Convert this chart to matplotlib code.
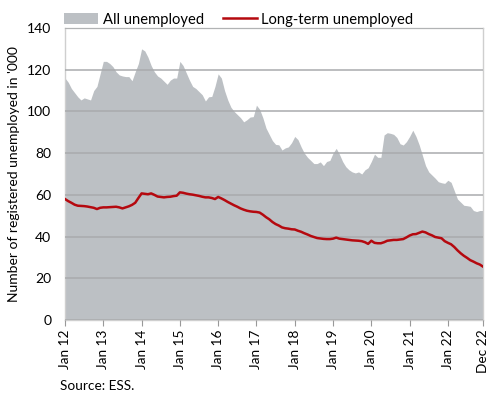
import numpy as np
import matplotlib
matplotlib.use('Agg')
import matplotlib.pyplot as plt

plt.rcParams['font.family'] = ['Lato', 'DejaVu Sans']

# monthly values, Jan 2012 - Dec 2022, thousands
all_unemployed = [
    116, 114, 111, 109, 107, 105.5, 106.5, 106, 105.5, 110, 112, 118,       # 2012
    124, 124, 123, 121.5, 119, 117.5, 117, 116.7, 116.7, 114.7, 119, 123,   # 2013
    130, 129, 126, 122, 119, 117, 116, 114.5, 113, 115, 116, 116,           # 2014
    124, 122, 118.5, 115, 112, 111, 109.5, 108, 105, 107, 107.2, 112,       # 2015
    118, 116, 110, 105.5, 102, 100, 98.5, 97, 95, 96, 97.3, 97.5,           # 2016
    103, 101, 97, 92, 89, 86, 84.2, 84, 81.5, 82.5, 83, 85,                 # 2017
    88, 86.5, 83, 80, 78, 76.5, 75, 75, 75.8, 74, 76, 76.5,                 # 2018
    80, 82.3, 79.5, 76, 73.5, 72, 71, 70.5, 71, 70, 72, 73,                 # 2019
    76, 79.5, 78, 78, 88.7, 89.8, 89.5, 89, 87.5, 84.5, 83.9, 85.5,         # 2020
    88, 91, 88, 84, 79, 74, 71, 69.5, 68, 66.3, 65.8, 65.5,                 # 2021
    67, 66, 62, 58, 56.5, 55, 54.8, 54.5, 52.5, 52, 52.5, 52.5,             # 2022
]
long_term = [
    58, 57, 56.2, 55.3, 54.8, 54.7, 54.6, 54.4, 54.1, 53.8, 53.2, 53.8,
    54, 54, 54.1, 54.2, 54.3, 54, 53.5, 54, 54.5, 55.2, 56.2, 58.5,
    60.7, 60.5, 60.3, 60.7, 60, 59.2, 59, 58.8, 59, 59.1, 59.4, 59.6,
    61.2, 61, 60.6, 60.3, 60.1, 59.8, 59.5, 59.1, 58.8, 58.8, 58.5, 58,
    59, 58.3, 57.5, 56.6, 55.8, 55, 54.3, 53.5, 52.9, 52.4, 52.1, 51.9,
    51.8, 51.5, 50.5, 49.3, 48.3, 47, 46, 45.3, 44.4, 44, 43.8, 43.5,
    43.4, 42.8, 42.3, 41.6, 41, 40.3, 39.8, 39.3, 39.1, 38.9, 38.8, 38.8,
    39, 39.5, 39, 38.8, 38.6, 38.4, 38.2, 38.1, 38, 37.8, 37.3, 36.5,
    38, 37, 36.8, 36.8, 37.3, 38, 38.2, 38.4, 38.4, 38.6, 38.8, 39.6,
    40.5, 41.1, 41.2, 41.8, 42.4, 42, 41.2, 40.6, 39.8, 39.5, 39.2, 37.8,
    37, 36.3, 35, 33.4, 32, 30.8, 29.8, 28.7, 28, 27.2, 26.6, 25.6,
]
tick_labels = ['Jan 12', 'Jan 13', 'Jan 14', 'Jan 15', 'Jan 16', 'Jan 17',
               'Jan 18', 'Jan 19', 'Jan 20', 'Jan 21', 'Jan 22', 'Dec 22']

x = np.arange(len(all_unemployed))

fig = plt.figure(figsize=(4.9, 3.96), dpi=100)
ax = fig.add_axes([0.1327, 0.1919, 0.8530, 0.7374])

gray = '#bcc0c4'
red = '#b5090f'

ax.fill_between(x, all_unemployed, color=gray, lw=0, label='All unemployed', zorder=1)
ax.plot(x, long_term, color=red, lw=1.8, label='Long-term unemployed', zorder=3)

ax.set_ylim(0, 140)
ax.set_xlim(0, len(x) - 1)
ax.set_yticks(np.arange(0, 141, 20))
ax.set_xticks(list(range(0, 121, 12)) + [len(x) - 1])
ax.set_xticklabels(tick_labels, rotation=90)
ax.yaxis.grid(True, color='#a9abad', lw=1.1, zorder=2)
ax.set_axisbelow(False)
ax.tick_params(axis='y', length=0, labelsize=10, pad=10)
ax.tick_params(axis='x', length=4, color='#999999', labelsize=9.8, pad=3)
for s in ax.spines.values():
    s.set_color('#cfcfcf')
    s.set_linewidth(1.0)

ax.set_ylabel("Number of registered unemployed in '000", fontsize=10, labelpad=5)

ax.legend(loc='lower left', bbox_to_anchor=(-0.005, 1.0), ncol=2, frameon=False,
          fontsize=10.6, handlelength=2.3, handletextpad=0.3, columnspacing=1.3,
          borderaxespad=0.05, borderpad=0.05)

fig.text(0.122, 0.015, 'Source: ESS.', fontsize=9.8)

fig.savefig('out.png', dpi=100)
